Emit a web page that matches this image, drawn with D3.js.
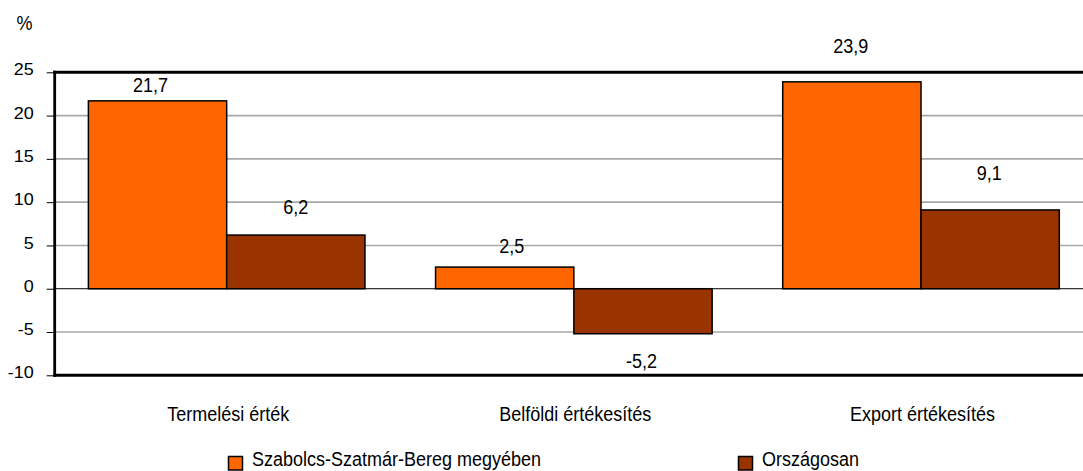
<!DOCTYPE html>
<html>
<head>
<meta charset="utf-8">
<script src="https://cdn.jsdelivr.net/npm/d3@7"></script>
<style>
  html, body { margin: 0; padding: 0; background: #fff; }
  svg { display: block; }
  text { font-family: "Liberation Sans", Arial, sans-serif; fill: #000; }
</style>
</head>
<body>
<svg id="chart" width="1083" height="471"></svg>
<script>
// ---- data ----
const categories = ["Termelési érték", "Belföldi értékesítés", "Export értékesítés"];
const seriesNames = ["Szabolcs-Szatmár-Bereg megyében", "Országosan"];
const countyValues = [21.7, 2.5, 23.9];
const nationalValues = [6.2, -5.2, 9.1];
const tickValues = [-10, -5, 0, 5, 10, 15, 20, 25];
const unitLabel = "%";

// ---- layout / style ----
const colors = ["#ff6600", "#993300"];
const W = 1083, H = 471;
const axisX = 54.7;
const yTop = 72.3, yBottom = 375.3;
// label offsets (px) from bar end, per category per series [dx, dy]
const labelOffsets = [[[-7, -9.2], [0, -21]], [[7, -14.4], [-1.5, 34.6]], [[-1, -29.1], [-1, -29.9]]];

const svg = d3.select("#chart");
const fmt = v => String(v).replace(".", ",");

const y = d3.scaleLinear().domain([-10, 25]).range([yBottom, yTop]);
const x0 = d3.scaleBand().domain(categories).range([53.1, 1094.6]).paddingInner(0.2033).paddingOuter(0.10165);
const x1 = d3.scaleBand().domain(seriesNames).range([0, x0.bandwidth()]);

function stretchedText(sel, x, yy, str, k, anchor) {
  return sel.append("text")
    .attr("transform", `translate(${x},${yy}) scale(1,${k})`)
    .attr("text-anchor", anchor)
    .style("font-size", "18px")
    .text(str);
}

// gridlines
svg.append("g").selectAll("line")
  .data(tickValues.filter(t => t !== 0 && t !== 25 && t !== -10))
  .join("line")
  .attr("x1", axisX).attr("x2", W + 20)
  .attr("y1", d => y(d)).attr("y2", d => y(d))
  .attr("stroke", "#a8a8a8").attr("stroke-width", 1.6);

// zero line
svg.append("line")
  .attr("x1", axisX).attr("x2", W + 20)
  .attr("y1", y(0)).attr("y2", y(0))
  .attr("stroke", "#000").attr("stroke-width", 1);

// bars
const rows = categories.map((c, i) => ({ cat: c, i, vals: [countyValues[i], nationalValues[i]] }));
const groups = svg.append("g").selectAll("g")
  .data(rows).join("g")
  .attr("transform", d => `translate(${x0(d.cat)},0)`);

groups.selectAll("rect")
  .data(d => d.vals.map((v, j) => ({ v, j, s: seriesNames[j] })))
  .join("rect")
  .attr("x", d => x1(d.s))
  .attr("width", x1.bandwidth())
  .attr("y", d => Math.min(y(d.v), y(0)))
  .attr("height", d => Math.abs(y(d.v) - y(0)))
  .attr("fill", d => colors[d.j])
  .attr("stroke", "#000").attr("stroke-width", 1.5);

// value labels
rows.forEach(r => {
  r.vals.forEach((v, j) => {
    const off = labelOffsets[r.i][j];
    const cx = x0(r.cat) + x1(seriesNames[j]) + x1.bandwidth() / 2 + off[0];
    stretchedText(svg, cx, y(v) + off[1], fmt(v), 1.16, "middle");
  });
});

// y axis ticks
const axis = d3.axisLeft(y).tickValues(tickValues).tickSize(8).tickFormat(d => String(d));
const ag = svg.append("g").attr("transform", `translate(${axisX},0)`).call(axis);
ag.select(".domain").remove();
ag.selectAll(".tick line").attr("stroke", "#000").attr("stroke-width", 1);
ag.selectAll(".tick text")
  .attr("x", null).attr("dy", null)
  .attr("transform", "translate(-21,2.6) scale(1,0.9)")
  .attr("text-anchor", "end")
  .attr("font-family", null).attr("font-size", null)
  .style("font-size", "18px");

// frame
svg.append("line").attr("x1", axisX).attr("x2", axisX).attr("y1", yTop - 1.5).attr("y2", yBottom + 1.5)
  .attr("stroke", "#000").attr("stroke-width", 2.8);
svg.append("line").attr("x1", axisX - 1.4).attr("x2", W + 20).attr("y1", yTop).attr("y2", yTop)
  .attr("stroke", "#000").attr("stroke-width", 3);
svg.append("line").attr("x1", axisX - 1.4).attr("x2", W + 20).attr("y1", yBottom).attr("y2", yBottom)
  .attr("stroke", "#000").attr("stroke-width", 3);

// unit label
stretchedText(svg, 24.5, 30, unitLabel, 1.16, "middle");

// category labels
categories.forEach(c => {
  stretchedText(svg, x0(c) + x0.bandwidth() / 2 + 1.5, 420.8, c, 1.16, "middle");
});

// legend
const legendX = [228.5, 738.5];
seriesNames.forEach((s, j) => {
  svg.append("rect")
    .attr("x", legendX[j]).attr("y", 456.5)
    .attr("width", 14).attr("height", 13.5)
    .attr("fill", colors[j]).attr("stroke", "#000").attr("stroke-width", 1.5);
  stretchedText(svg, legendX[j] + 23.5, 466.2, s, 1.1, "start");
});
</script>
</body>
</html>
